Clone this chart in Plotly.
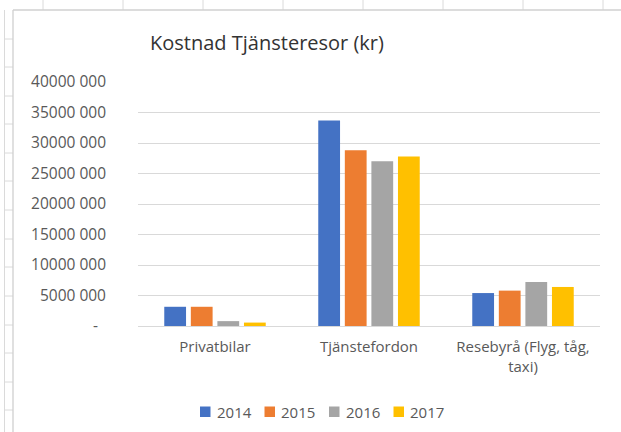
import plotly.graph_objects as go

categories = ["Privatbilar", "Tjänstefordon", "Resebyrå (Flyg, tåg,<br>taxi)"]
years = ["2014", "2015", "2016", "2017"]
values_2014 = [3150000, 33700000, 5400000]
values_2015 = [3150000, 28800000, 5800000]
values_2016 = [800000, 27000000, 7200000]
values_2017 = [560000, 27800000, 6400000]
series = [values_2014, values_2015, values_2016, values_2017]
colors = ["#4472C4", "#ED7D31", "#A5A5A5", "#FFC000"]

y_tickvals = [0, 5000000, 10000000, 15000000, 20000000, 25000000, 30000000, 35000000, 40000000]
y_ticktext = ["-\u00a0\u00a0", "5000 000", "10000 000", "15000 000", "20000 000",
              "25000 000", "30000 000", "35000 000", "40000 000"]

W, H = 621, 432
FONT = "Open Sans"
TXT = "#595959"

fig = go.Figure()
for yr, vals, col in zip(years, series, colors):
    fig.add_trace(go.Bar(name=yr, x=categories, y=vals, marker_color=col,
                         marker_line_width=0, showlegend=False))

def px(x):
    return x / W

def py(y):
    return 1 - y / H

shapes = []
annotations = []
grid = "#dadada"
# spreadsheet: top strip vertical lines
for xv in [43, 123, 203, 283, 363, 443, 523, 603]:
    shapes.append(dict(type="line", xref="paper", yref="paper", x0=px(xv), x1=px(xv),
                       y0=py(0), y1=py(10), line=dict(color=grid, width=1)))
# left column
shapes.append(dict(type="line", xref="paper", yref="paper", x0=px(4.5), x1=px(4.5),
                   y0=py(10), y1=py(432), line=dict(color=grid, width=1)))
for yv in [39, 67, 96, 124, 153, 181, 210, 239, 267, 296, 325, 353, 382, 410]:
    shapes.append(dict(type="line", xref="paper", yref="paper", x0=px(4.5), x1=px(13),
                       y0=py(yv), y1=py(yv), line=dict(color=grid, width=1)))
# chart border
shapes.append(dict(type="line", xref="paper", yref="paper", x0=px(13), x1=px(621),
                   y0=py(10), y1=py(10), line=dict(color="#d0d0d0", width=1.3)))
shapes.append(dict(type="line", xref="paper", yref="paper", x0=px(13), x1=px(13),
                   y0=py(10), y1=py(432), line=dict(color="#d0d0d0", width=1.3)))

# legend (manual, Excel-like spacing)
leg_x0 = 200
leg_step = 64.5
for i, (yr, col) in enumerate(zip(years, colors)):
    x0 = leg_x0 + i * leg_step
    shapes.append(dict(type="rect", xref="paper", yref="paper",
                       x0=px(x0), x1=px(x0 + 10.5), y0=py(417), y1=py(406.5),
                       fillcolor=col, line=dict(width=0)))
    annotations.append(dict(text=yr, xref="paper", yref="paper", x=px(x0 + 14.5),
                            y=py(411.5), xanchor="left", yanchor="middle", showarrow=False,
                            font=dict(family=FONT, size=15, color=TXT)))

fig.update_layout(
    width=W, height=H,
    margin=dict(l=0, r=0, t=0, b=0, autoexpand=False),
    paper_bgcolor="white", plot_bgcolor="white",
    font=dict(family=FONT, size=15, color=TXT),
    title=dict(text="Kostnad Tjänsteresor (kr)", x=px(267), y=py(43),
               xanchor="center", yanchor="middle", xref="paper", yref="paper",
               font=dict(family=FONT, size=20, color="#333333")),
    barmode="group", bargap=0.31, bargroupgap=0.18,
    showlegend=False,
    shapes=shapes,
    annotations=annotations,
    xaxis=dict(domain=[px(138), px(600)], showgrid=False, showline=False,
               ticks="", ticklabelstandoff=10, automargin=False,
               tickfont=dict(family=FONT, size=15, color=TXT)),
    yaxis=dict(domain=[py(326), py(82)], range=[0, 40000000], tickvals=y_tickvals,
               ticktext=y_ticktext, showgrid=True, gridcolor="#d9d9d9", gridwidth=1,
               zeroline=True, zerolinecolor="#d9d9d9", zerolinewidth=1,
               showline=False, ticks="", ticklabelstandoff=31, automargin=False,
               tickfont=dict(family=FONT, size=15.5, color=TXT)),
)

fig.write_html("out.html", config={"displayModeBar": False},
               post_script="document.body.style.margin='0px';")
